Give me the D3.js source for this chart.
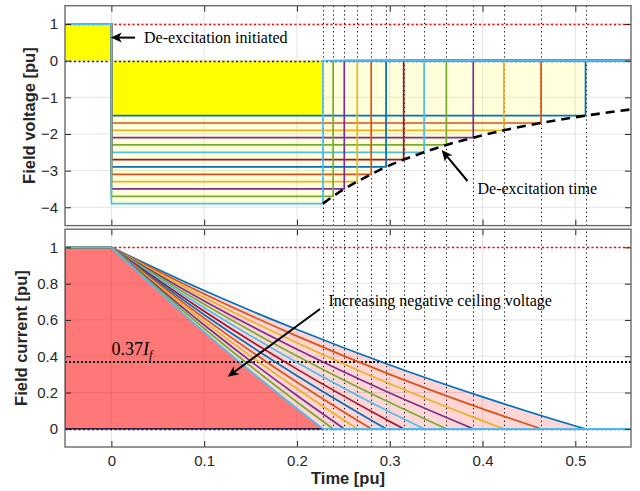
<!DOCTYPE html>
<html>
<head>
<meta charset="utf-8">
<script src="https://cdn.jsdelivr.net/npm/d3@7"></script>
<style>
html,body{margin:0;padding:0;background:#fff;}
svg{display:block;}
</style>
</head>
<body>
<svg id="chart" width="640" height="491"></svg>
<script>
// ---------------- data ----------------
const ceilingVoltage = [-1.5,-1.7,-1.9,-2.1,-2.3,-2.5,-2.7,-2.9,-3.1,-3.3,-3.5,-3.7,-3.9];
const deexcitationTime = [0.511,0.463,0.423,0.390,0.361,0.337,0.315,0.296,0.280,0.265,0.251,0.239,0.228];
const sampleTimes = [0.1,0.2,0.3,0.4,0.5];
const fieldCurrent = [
  [0.762,0.547,0.352,0.176,0.016],
  [0.743,0.511,0.300,0.110],
  [0.724,0.474,0.248,0.044],
  [0.705,0.438,0.197],
  [0.686,0.402,0.145],
  [0.667,0.366,0.093],
  [0.648,0.329,0.041],
  [0.629,0.293],
  [0.610,0.257],
  [0.591,0.221],
  [0.572,0.184],
  [0.553,0.148],
  [0.534,0.112]
];
const deexcCurveEnd = [0.56,-1.33];
const preVoltage = 1;
const preCurrent = 1;
const thresholdCurrent = 0.37;
const xTicks = [0,0.1,0.2,0.3,0.4,0.5];
const yTicksTop = [-4,-3,-2,-1,0,1];
const yTicksBot = [0,0.2,0.4,0.6,0.8,1];
const seriesColors = ["#0072BD","#D95319","#EDB120","#7E2F8E","#77AC30","#4DBEEE","#A2142F"];

// ---------------- layout ----------------
const svg = d3.select("#chart");
const xMin = -0.05, xMax = 0.56;
const x = d3.scaleLinear([xMin,xMax],[65,631]);
const yT = d3.scaleLinear([-4.5,1.5],[225.6,5.7]);
const yB = d3.scaleLinear([-0.1,1.1],[447,229.2]);
const axisCol = "#262626", borderCol = "#6a6a6a", gridCol = "#e3e3e3";
const tickFont = "'Liberation Sans', Arial, Helvetica, sans-serif";
const serif = "'Liberation Serif', 'Times New Roman', Times, serif";

const defs = svg.append("defs");
function addClip(id, y){
  defs.append("clipPath").attr("id",id).append("rect")
    .attr("x",x(xMin)).attr("y",y.range()[1]).attr("width",x(xMax)-x(xMin)).attr("height",y.range()[0]-y.range()[1]);
}
addClip("clipT",yT); addClip("clipB",yB);

function grid(g,y,yt){
  g.selectAll(".gx").data(xTicks).join("line").attr("stroke",gridCol).attr("stroke-width",1)
    .attr("x1",d=>x(d)).attr("x2",d=>x(d)).attr("y1",y.range()[0]).attr("y2",y.range()[1]);
  g.selectAll(".gy").data(yt).join("line").attr("stroke",gridCol).attr("stroke-width",1)
    .attr("x1",x(xMin)).attr("x2",x(xMax)).attr("y1",d=>y(d)).attr("y2",d=>y(d));
}
function hline(g,y,val,color,width,dash){
  const yy = Math.round(y(val)) + (width<2?0.5:0);
  g.append("line").attr("x1",x(xMin)).attr("x2",x(xMax)).attr("y1",yy).attr("y2",yy)
    .attr("stroke",color).attr("stroke-width",width).attr("stroke-dasharray",dash);
}
function vdotted(g,y){
  g.selectAll(".vd").data(deexcitationTime).join("line")
    .attr("x1",d=>Math.round(x(d))+0.5).attr("x2",d=>Math.round(x(d))+0.5).attr("y1",y.range()[0]).attr("y2",y.range()[1])
    .attr("stroke","#000").attr("stroke-width",1).attr("stroke-dasharray","1.2,3");
}
function frame(y, showXLabels){
  const g = svg.append("g");
  const y0 = y.range()[0], y1 = y.range()[1];
  const left = g.append("g").attr("transform",`translate(${x(xMin)},0)`)
    .call(d3.axisLeft(y).tickValues(y===yT?yTicksTop:yTicksBot).tickSize(-6).tickPadding(7).tickFormat(d=>d3.format("~g")(d)));
  const right = g.append("g").attr("transform",`translate(${x(xMax)},0)`)
    .call(d3.axisRight(y).tickValues(y===yT?yTicksTop:yTicksBot).tickSize(-6).tickFormat(""));
  const bottom = g.append("g").attr("transform",`translate(0,${y0})`)
    .call(d3.axisBottom(x).tickValues(xTicks).tickSize(-6).tickPadding(8).tickFormat(showXLabels?d3.format("~g"):""));
  const top = g.append("g").attr("transform",`translate(0,${y1})`)
    .call(d3.axisTop(x).tickValues(xTicks).tickSize(-6).tickFormat(""));
  [left,right,bottom,top].forEach(a=>{
    a.select(".domain").remove();
    a.selectAll(".tick line").attr("stroke",axisCol).attr("stroke-width",1);
    a.selectAll(".tick text").attr("fill",axisCol).style("font-family",tickFont).style("font-size","15px");
  });
  g.append("rect").attr("x",x(xMin)).attr("y",y1).attr("width",x(xMax)-x(xMin)).attr("height",y0-y1)
    .attr("fill","none").attr("stroke",borderCol).attr("stroke-width",1.4);
}

const n = ceilingVoltage.length;

// ================= TOP PANEL: field voltage =================
const gT = svg.append("g").attr("clip-path","url(#clipT)");
grid(gT,yT,yTicksTop);

// union (staircase) light yellow
const stair = [[0,0],[0,ceilingVoltage[n-1]]];
for(let i=n-1;i>=0;i--){
  stair.push([deexcitationTime[i],ceilingVoltage[i]]);
  stair.push([deexcitationTime[i], i>0?ceilingVoltage[i-1]:0]);
}
gT.append("path").attr("d",d3.line().x(d=>x(d[0])).y(d=>yT(d[1]))(stair)+"Z")
  .attr("fill","#ffff00").attr("fill-opacity",0.14);
// intersection bright yellow
const tMin = d3.min(deexcitationTime), vMax = d3.max(ceilingVoltage);
gT.append("rect").attr("x",x(0)).attr("y",yT(0)).attr("width",x(tMin)-x(0)).attr("height",yT(vMax)-yT(0)).attr("fill","#ffff00");
gT.append("rect").attr("x",x(xMin)).attr("y",yT(preVoltage)).attr("width",x(0)-x(xMin)).attr("height",yT(0)-yT(preVoltage)).attr("fill","#ffff00");

hline(gT,yT,1,"#ff0000",1.5,"2,2.5");
hline(gT,yT,0,"#0000ff",1.5,"2,2.5");
vdotted(gT,yT);

// step voltage lines
ceilingVoltage.forEach((v,i)=>{
  const tk = deexcitationTime[i];
  const pts = [[xMin,preVoltage],[0,preVoltage],[0,v],[tk,v],[tk,0],[xMax,0]];
  gT.append("path").attr("d",d3.line().x(d=>x(d[0])).y(d=>yT(d[1]))(pts))
    .attr("fill","none").attr("stroke",seriesColors[i%7]).attr("stroke-width",1.7);
});

// de-excitation time dashed curve
const dcPts = deexcitationTime.map((t,i)=>[t,ceilingVoltage[i]]).sort((a,b)=>a[0]-b[0]);
dcPts.push(deexcCurveEnd);
gT.append("path").attr("d",d3.line().curve(d3.curveMonotoneX).x(d=>x(d[0])).y(d=>yT(d[1]))(dcPts))
  .attr("fill","none").attr("stroke","#000").attr("stroke-width",2.6).attr("stroke-dasharray","9,6");

frame(yT,false);

// ================= BOTTOM PANEL: field current =================
const gB = svg.append("g").attr("clip-path","url(#clipB)");
grid(gB,yB,yTicksBot);

function decayPts(i){
  const pts = [[0,preCurrent]];
  fieldCurrent[i].forEach((c,j)=>pts.push([sampleTimes[j],c]));
  pts.push([deexcitationTime[i],0]);
  return pts;
}
const decayLine = d3.line().curve(d3.curveMonotoneX).x(d=>x(d[0])).y(d=>yB(d[1]));
function areaPath(i){
  return `M${x(xMin)},${yB(0)}L${x(xMin)},${yB(preCurrent)}` + decayLine(decayPts(i)).replace(/^M/,"L") + "Z";
}
gB.append("path").attr("d",areaPath(0)).attr("fill","#ff0000").attr("fill-opacity",0.16);
gB.append("path").attr("d",areaPath(n-1)).attr("fill","#ff0000").attr("fill-opacity",0.44);
// black fill edge
gB.append("path").attr("d",`M${x(xMin)},${yB(preCurrent)}L${x(xMin)},${yB(0)}L${x(deexcitationTime[n-1])},${yB(0)}`)
  .attr("fill","none").attr("stroke","#000").attr("stroke-width",1.2);

hline(gB,yB,1,"#ff0000",1.5,"2,2.5");
hline(gB,yB,0,"#0000ff",1.5,"2,2.5");
hline(gB,yB,thresholdCurrent,"#000",2.2,"2,2");
vdotted(gB,yB);

ceilingVoltage.forEach((v,i)=>{
  const d = `M${x(xMin)},${yB(preCurrent)}` + decayLine(decayPts(i)).replace(/^M/,"L") + `L${x(xMax)},${yB(0)}`;
  gB.append("path").attr("d",d).attr("fill","none").attr("stroke",seriesColors[i%7]).attr("stroke-width",1.7)
    .attr("stroke-linejoin","round");
});

frame(yB,true);

// ================= labels =================
svg.append("text").attr("transform",`translate(35,${(yT.range()[0]+yT.range()[1])/2}) rotate(-90)`)
  .attr("text-anchor","middle").style("font-family",tickFont).style("font-weight","bold").style("font-size","16.5px")
  .attr("fill",axisCol).text("Field voltage [pu]");
svg.append("text").attr("transform",`translate(27,${(yB.range()[0]+yB.range()[1])/2}) rotate(-90)`)
  .attr("text-anchor","middle").style("font-family",tickFont).style("font-weight","bold").style("font-size","16.5px")
  .attr("fill",axisCol).text("Field current [pu]");
svg.append("text").attr("x",(x(xMin)+x(xMax))/2).attr("y",484).attr("text-anchor","middle")
  .style("font-family",tickFont).style("font-weight","bold").style("font-size","16.5px").attr("fill",axisCol).text("Time [pu]");

// annotations
function arrow(x1,y1,x2,y2){
  const g = svg.append("g");
  const ang = Math.atan2(y2-y1,x2-x1);
  const L = 11, Wd = 5, back = 8;
  const ux = Math.cos(ang), uy = Math.sin(ang);
  g.append("line").attr("x1",x1).attr("y1",y1).attr("x2",x2-ux*back).attr("y2",y2-uy*back)
    .attr("stroke","#000").attr("stroke-width",2);
  const bx = x2-ux*L, by = y2-uy*L;
  const nx = bx-uy*Wd, ny = by+ux*Wd;
  const mx = bx+uy*Wd, my = by-ux*Wd;
  const cx = x2-ux*back, cy = y2-uy*back;
  g.append("path").attr("d",`M${x2},${y2}L${nx},${ny}L${cx},${cy}L${mx},${my}Z`).attr("fill","#000");
}
svg.append("text").attr("x",144).attr("y",43).style("font-family",serif).style("font-size","16px").attr("fill","#000").text("De-excitation initiated");
arrow(135,37.6,110.8,37.6);
svg.append("text").attr("x",477.5).attr("y",194).style("font-family",serif).style("font-size","16px").attr("fill","#000").text("De-excitation time");
arrow(467.5,181,441.7,150);
svg.append("text").attr("x",328.5).attr("y",305.5).style("font-family",serif).style("font-size","16px").attr("fill","#000").text("Increasing negative ceiling voltage");
arrow(320,309,227.7,376.7);
const mt = svg.append("text").attr("x",111.5).attr("y",355).style("font-family",serif).style("font-size","18px").attr("fill","#000");
mt.append("tspan").text("0.37");
mt.append("tspan").style("font-style","italic").text("I");
mt.append("tspan").style("font-style","italic").style("font-size","12.5px").attr("dy",4).text("f");
</script>
</body>
</html>
